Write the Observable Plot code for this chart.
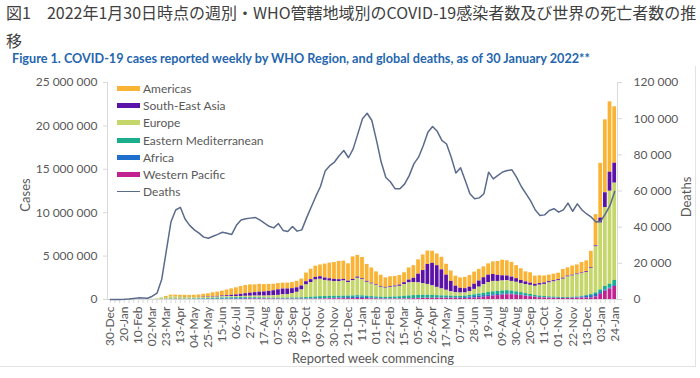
<!DOCTYPE html>
<html><head><meta charset="utf-8">
<script src="https://cdn.jsdelivr.net/npm/d3@7"></script>
<script src="https://cdn.jsdelivr.net/npm/@observablehq/plot@0.6"></script>
<style>
body{margin:0;background:#fff;}
#wrap{position:relative;width:700px;height:378px;overflow:hidden;font-family:Lato,sans-serif;color:#595959;}
#title{position:absolute;left:6px;top:-2px;font-family:"Noto Sans CJK JP",sans-serif;font-size:16px;line-height:28px;color:#404040;white-space:nowrap;}
#sub{position:absolute;left:12px;top:51px;font-family:Lato,sans-serif;font-weight:bold;font-size:12.65px;color:#2566AE;white-space:nowrap;}
#box{position:absolute;left:0;top:66px;width:695px;height:300px;border-right:1px solid #e3e3e3;border-bottom:1px solid #e3e3e3;}
.layer{position:absolute;left:0;top:66px;}
.rot{position:absolute;transform:translate(-50%,-50%) rotate(-90deg);font-size:13px;white-space:nowrap;color:#595959;}
#xt{position:absolute;left:373px;top:358px;transform:translate(-50%,-50%);font-size:13px;white-space:nowrap;}
#legend{position:absolute;left:117px;top:80px;font-size:12px;color:#595959;}
.li{height:17.2px;display:flex;align-items:center;}
.sw{width:23px;height:5px;margin-right:3px;}
.ln{width:23px;height:1.5px;margin-right:3px;}
</style></head><body><div id="wrap">
<div id="title">図1　2022年1月30日時点の週別・WHO管轄地域別のCOVID-19感染者数及び世界の死亡者数の推<br>移</div>
<div id="sub">Figure 1. COVID-19 cases reported weekly by WHO Region, and global deaths, as of 30 January 2022**</div>
<div id="box"></div>
<div id="p1" class="layer"></div>
<div id="p2" class="layer"></div>
<div class="rot" style="left:25px;top:195px;">Cases</div>
<div class="rot" style="left:686px;top:197px;">Deaths</div>
<div id="xt">Reported week commencing</div>
<div id="legend"></div>
</div>
<script>
const weeks = ["30-Dec",
"06-Jan","13-Jan","20-Jan","27-Jan","03-Feb","10-Feb","17-Feb","24-Feb","02-Mar","09-Mar","16-Mar","23-Mar","30-Mar",
"06-Apr","13-Apr","20-Apr","27-Apr","04-May","11-May","18-May","25-May","01-Jun","08-Jun","15-Jun","22-Jun","29-Jun",
"06-Jul","13-Jul","20-Jul","27-Jul","03-Aug","10-Aug","17-Aug","24-Aug","31-Aug","07-Sep","14-Sep","21-Sep","28-Sep",
"05-Oct","12-Oct","19-Oct","26-Oct","02-Nov","09-Nov","16-Nov","23-Nov","30-Nov","07-Dec","14-Dec","21-Dec","28-Dec",
"04-Jan","11-Jan","18-Jan","25-Jan","01-Feb","08-Feb","15-Feb","22-Feb","01-Mar","08-Mar","15-Mar","22-Mar","29-Mar",
"05-Apr","12-Apr","19-Apr","26-Apr","03-May","10-May","17-May","24-May","31-May","07-Jun","14-Jun","21-Jun","28-Jun",
"05-Jul","12-Jul","19-Jul","26-Jul","02-Aug","09-Aug","16-Aug","23-Aug","30-Aug","06-Sep","13-Sep","20-Sep","27-Sep",
"04-Oct","11-Oct","18-Oct","25-Oct","01-Nov","08-Nov","15-Nov","22-Nov","29-Nov","06-Dec","13-Dec","20-Dec","27-Dec",
"03-Jan","10-Jan","17-Jan","24-Jan"];
const tickLabels = ["30-Dec","20-Jan","10-Feb","02-Mar","23-Mar","13-Apr","04-May","25-May","15-Jun","06-Jul","27-Jul",
"17-Aug","07-Sep","28-Sep","19-Oct","09-Nov","30-Nov","21-Dec","11-Jan","01-Feb","22-Feb","15-Mar","05-Apr","26-Apr",
"17-May","07-Jun","28-Jun","19-Jul","09-Aug","30-Aug","20-Sep","11-Oct","01-Nov","22-Nov","13-Dec","03-Jan","24-Jan"];
const regions = ["Americas","South-East Asia","Europe","Eastern Mediterranean","Africa","Western Pacific"];
const regionColors = ["#F9B335","#5A12A9","#C5D66A","#1BAE8C","#1F6FCC","#C2228F"];
const stackOrder = ["Western Pacific","Africa","Eastern Mediterranean","Europe","South-East Asia","Americas"];
const caseTicks = [0,5e6,10e6,15e6,20e6,25e6];
const deathTicks = [0,20000,40000,60000,80000,100000,120000];

// weekly cases, millions
const americas = [0,0,0,0,0,0,0,0,0,0.001,0.005,0.04,0.12,0.2,0.22,0.23,0.24,0.25,0.26,0.28,
0.33,0.38,0.45,0.5,0.55,0.65,0.75,0.82,0.9,0.95,0.95,0.9,0.9,0.85,0.82,0.75,0.72,0.68,0.68,0.7,
0.75,0.8,1.0,1.2,1.3,1.35,1.6,1.8,1.95,2.1,2.1,2.0,2.6,2.5,2.45,1.95,1.75,1.5,1.3,1.1,
1.15,1.1,1.1,1.15,1.4,1.45,1.65,1.8,1.55,1.4,1.35,1.45,1.25,1.2,1.15,1.2,1.3,1.34,1.4,1.35,
1.25,1.3,1.45,1.6,1.8,1.75,1.7,1.5,1.35,1.15,1.2,0.95,0.9,0.8,0.75,0.75,0.75,1.0,0.95,1.05,
1.05,1.2,1.25,1.9,3.6,6.3,8.4,8.1,6.5];
const seAsia = [0,0,0,0,0,0,0,0,0,0,0,0.001,0.002,0.005,0.01,0.01,0.015,0.02,0.025,0.035,
0.045,0.05,0.065,0.08,0.1,0.12,0.15,0.19,0.24,0.3,0.36,0.4,0.45,0.48,0.52,0.58,0.64,0.67,0.63,0.58,
0.52,0.46,0.38,0.33,0.3,0.3,0.28,0.28,0.25,0.22,0.19,0.17,0.15,0.14,0.12,0.11,0.1,0.09,0.09,0.09,
0.1,0.12,0.15,0.22,0.33,0.5,1.0,1.5,2.3,2.6,2.5,2.2,1.75,1.2,0.75,0.55,0.5,0.5,0.6,0.7,
0.8,0.85,0.8,0.7,0.6,0.55,0.5,0.42,0.35,0.3,0.25,0.22,0.19,0.17,0.15,0.14,0.13,0.12,0.11,0.1,
0.1,0.09,0.09,0.09,0.12,0.58,1.7,2.2,2.3];
const europe = [0,0,0,0,0,0,0,0,0.001,0.015,0.06,0.13,0.2,0.25,0.23,0.2,0.18,0.15,0.14,0.13,
0.13,0.12,0.13,0.13,0.14,0.14,0.13,0.13,0.13,0.14,0.16,0.18,0.2,0.22,0.25,0.28,0.33,0.38,0.42,0.5,
0.65,0.9,1.45,1.7,1.95,2.0,1.85,1.75,1.7,1.7,1.75,1.55,1.75,2.0,1.85,1.6,1.45,1.3,1.15,1.05,
1.1,1.15,1.2,1.35,1.5,1.5,1.45,1.35,1.25,1.1,0.95,0.8,0.65,0.5,0.42,0.38,0.36,0.45,0.62,0.8,
1.0,1.15,1.2,1.15,1.15,1.15,1.1,1.1,1.05,1.05,1.05,1.05,1.25,1.4,1.6,1.75,1.9,2.1,2.35,2.45,
2.55,2.6,2.65,3.0,5.3,7.7,9.1,10.7,11.2];
const eastMed = [0,0,0,0,0,0,0,0,0.001,0.006,0.009,0.012,0.02,0.025,0.03,0.03,0.035,0.04,0.05,0.06,
0.07,0.08,0.1,0.11,0.12,0.12,0.12,0.11,0.1,0.09,0.08,0.08,0.075,0.07,0.07,0.075,0.08,0.09,0.1,0.11,
0.12,0.14,0.16,0.19,0.22,0.24,0.24,0.23,0.22,0.2,0.18,0.17,0.17,0.16,0.15,0.15,0.15,0.15,0.15,0.16,
0.18,0.2,0.23,0.27,0.3,0.32,0.33,0.33,0.32,0.3,0.27,0.24,0.22,0.2,0.18,0.17,0.17,0.18,0.2,0.22,
0.26,0.3,0.33,0.35,0.36,0.35,0.33,0.3,0.27,0.24,0.21,0.18,0.16,0.14,0.13,0.12,0.11,0.1,0.09,0.09,
0.085,0.085,0.09,0.11,0.18,0.3,0.4,0.45,0.6];
const africa = [0,0,0,0,0,0,0,0,0,0,0,0.001,0.002,0.003,0.004,0.005,0.006,0.008,0.01,0.012,
0.015,0.018,0.025,0.03,0.04,0.05,0.065,0.08,0.095,0.1,0.09,0.08,0.065,0.05,0.04,0.035,0.03,0.028,0.025,0.025,
0.025,0.025,0.03,0.03,0.03,0.035,0.04,0.05,0.06,0.075,0.1,0.12,0.14,0.16,0.15,0.13,0.1,0.08,0.06,0.045,
0.04,0.035,0.035,0.035,0.035,0.035,0.035,0.035,0.035,0.035,0.035,0.035,0.04,0.045,0.055,0.07,0.1,0.15,0.18,0.2,
0.19,0.17,0.15,0.13,0.12,0.11,0.1,0.08,0.07,0.06,0.05,0.04,0.035,0.03,0.025,0.02,0.018,0.016,0.016,0.02,
0.05,0.12,0.2,0.27,0.28,0.2,0.15,0.12,0.1];
const westPac = [0,0,0.0001,0.002,0.012,0.022,0.03,0.009,0.004,0.004,0.004,0.005,0.01,0.015,0.015,0.015,0.01,0.007,0.005,0.005,
0.006,0.005,0.006,0.007,0.008,0.01,0.013,0.018,0.025,0.035,0.045,0.05,0.055,0.05,0.045,0.04,0.035,0.035,0.033,0.032,
0.03,0.03,0.03,0.035,0.04,0.05,0.065,0.08,0.085,0.09,0.1,0.1,0.1,0.12,0.12,0.1,0.08,0.06,0.05,0.045,
0.045,0.045,0.05,0.06,0.07,0.09,0.1,0.12,0.13,0.13,0.14,0.14,0.15,0.14,0.13,0.12,0.12,0.14,0.16,0.2,
0.26,0.33,0.4,0.45,0.5,0.55,0.55,0.5,0.45,0.38,0.32,0.25,0.2,0.17,0.15,0.14,0.12,0.12,0.13,0.14,
0.15,0.16,0.17,0.18,0.3,0.6,0.95,1.2,1.5];
// weekly global deaths
const deaths = [0,0,10,80,300,600,900,800,700,1800,3500,11000,27000,43000,49500,51000,44500,41000,38500,36700,
34500,33900,35000,36000,37200,36600,36000,41000,44000,44600,45000,45400,44000,42200,40500,39600,42000,38200,37600,40400,
37800,38500,45000,51000,57000,62500,71000,74000,76000,79500,82400,78400,83300,91600,100000,103000,99000,88000,76000,67500,
65000,61200,61200,63800,68500,75000,78700,85000,92500,95700,93000,88000,86000,78700,69900,72800,65800,58500,55700,56200,
58500,70400,66700,68600,70500,71300,71700,67500,62500,58500,54500,49500,46500,46800,49200,50200,48300,49600,53300,48800,
52900,49500,47300,45500,42800,43300,47400,52000,59700];

const series = [americas, seAsia, europe, eastMed, africa, westPac];
const table = weeks.flatMap((w, i) => regions.map((r, k) => ({week: w, region: r, cases: series[k][i] * 1e6})));
const deathRows = weeks.map((w, i) => ({week: w, deaths: deaths[i]}));
const tickSet = new Set(tickLabels);
const fmt = d => d3.format(",")(d).replace(/,/g, " ");

const dims = {width: 700, height: 300, marginTop: 16, marginBottom: 67, marginLeft: 107, marginRight: 83};
const xOpts = {type: "band", domain: weeks, padding: 0.2, axis: null};
const style = {fontFamily: "Lato, sans-serif", background: "transparent", overflow: "visible"};
const axisCol = "#d9d9d9", textCol = "#595959";

const p1 = Plot.plot({
  ...dims, style,
  x: xOpts,
  y: {domain: [0, 25e6], axis: null},
  color: {domain: regions, range: regionColors},
  marks: [
    Plot.barY(table, {x: "week", y: "cases", fill: "region", order: stackOrder}),
    Plot.ruleY([0], {stroke: axisCol}),
    Plot.frame({anchor: "left", stroke: axisCol}),
    Plot.axisY({ticks: caseTicks, tickFormat: fmt, tickSize: 4, tickPadding: 6, fontSize: 12, stroke: axisCol, fill: textCol, label: null}),
    Plot.axisX({ticks: weeks, tickSize: 4, tickPadding: 3, tickRotate: -90, tickFormat: d => tickSet.has(d) ? d : "", fontSize: 12, stroke: axisCol, fill: textCol, label: null})
  ]
});
document.getElementById("p1").appendChild(p1);

const p2 = Plot.plot({
  ...dims, style,
  x: xOpts,
  y: {domain: [0, 120000], axis: null},
  marks: [
    Plot.frame({anchor: "right", stroke: axisCol}),
    Plot.axisY({anchor: "right", ticks: deathTicks, tickFormat: fmt, tickSize: 4, tickPadding: 12, fontSize: 12, stroke: axisCol, fill: textCol, label: null}),
    Plot.line(deathRows, {x: "week", y: "deaths", stroke: "#5B6B8C", strokeWidth: 1.5})
  ]
});
document.getElementById("p2").appendChild(p2);

const legend = document.getElementById("legend");
regions.forEach((r, k) => {
  const d = document.createElement("div"); d.className = "li";
  d.innerHTML = `<span class="sw" style="background:${regionColors[k]}"></span><span>${r}</span>`;
  legend.appendChild(d);
});
const dl = document.createElement("div"); dl.className = "li";
dl.innerHTML = `<span class="ln" style="background:#5B6B8C"></span><span>Deaths</span>`;
legend.appendChild(dl);
</script>
</body></html>
